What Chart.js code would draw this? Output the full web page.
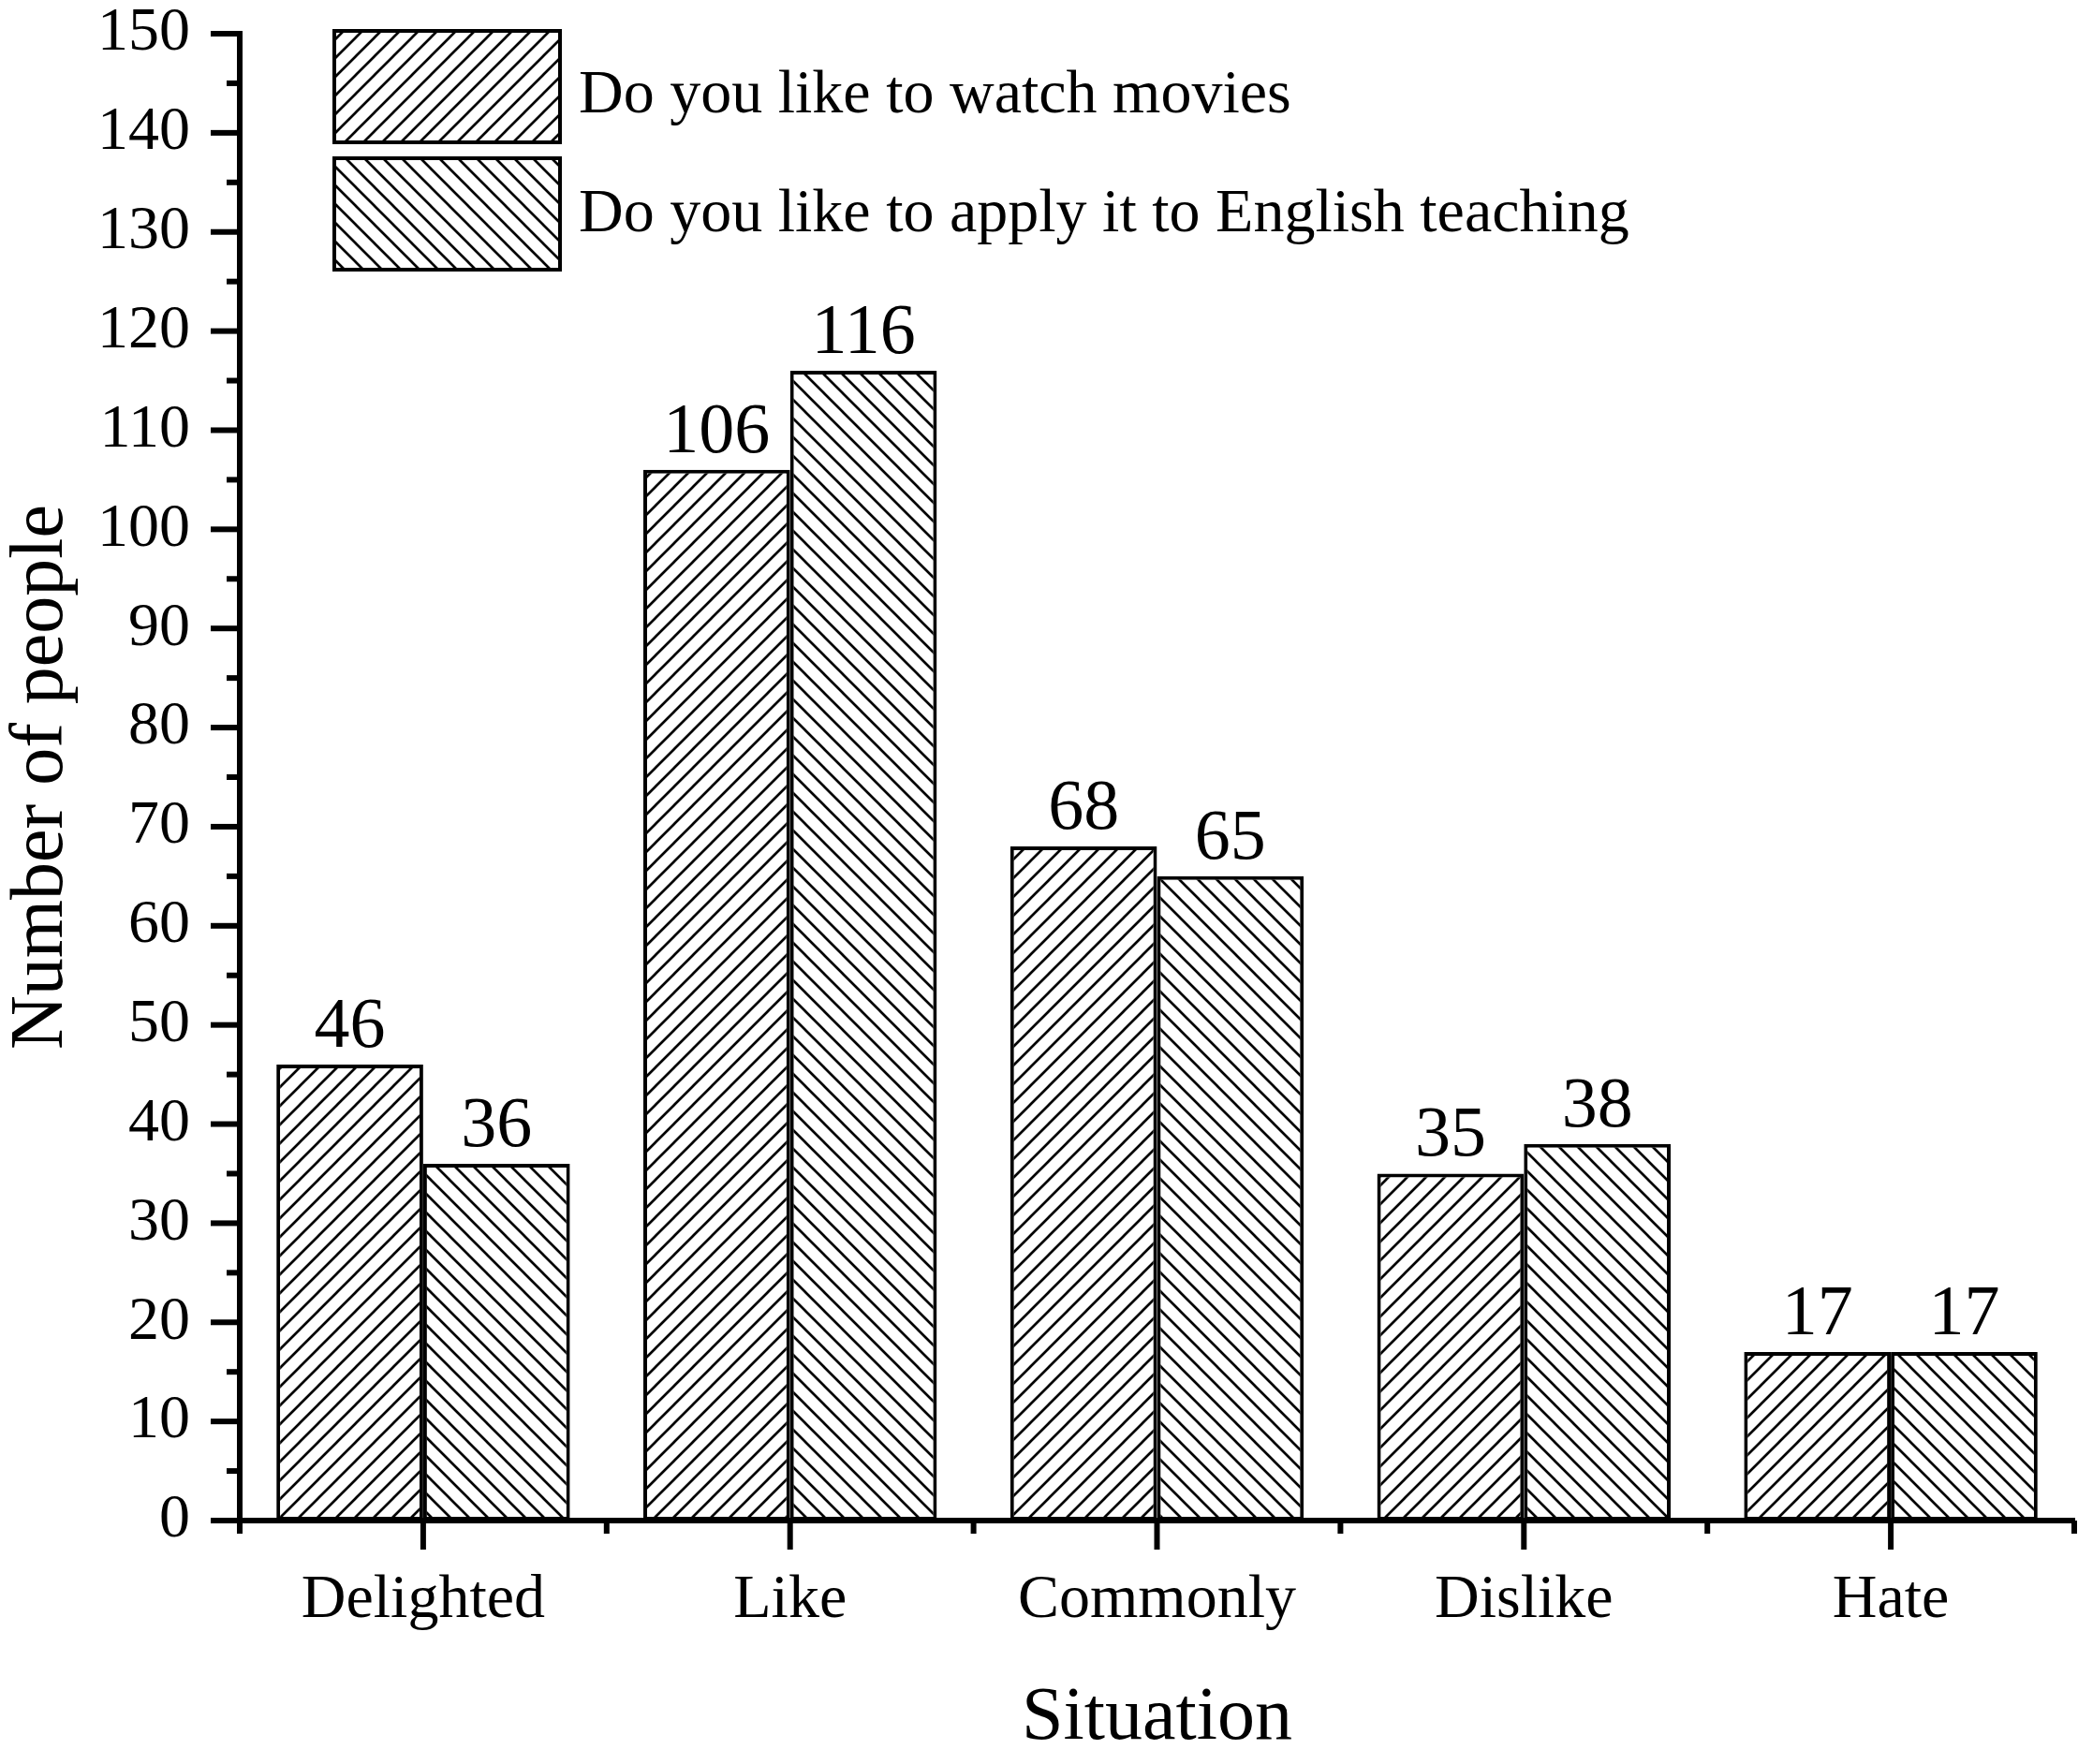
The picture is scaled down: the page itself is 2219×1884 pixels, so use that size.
<!DOCTYPE html>
<html>
<head>
<meta charset="utf-8">
<style>
  html, body { margin: 0; padding: 0; background: #fff; }
  #wrap { width: 2219px; height: 1884px; }
</style>
<script src="https://cdn.jsdelivr.net/npm/chart.js@4.4.1/dist/chart.umd.min.js"></script>
</head>
<body>
<div id="wrap"><canvas id="c" width="2219" height="1884"></canvas></div>
<script>
// ---- data ----
const categories = ['Delighted', 'Like', 'Commonly', 'Dislike', 'Hate'];
const seriesNames = ['Do you like to watch movies', 'Do you like to apply it to English teaching'];
const watchMovies = [46, 106, 68, 35, 17];
const applyTeaching = [36, 116, 65, 38, 17];
const yTickValues = [0, 10, 20, 30, 40, 50, 60, 70, 80, 90, 100, 110, 120, 130, 140, 150];
const xTitle = 'Situation';
const yTitle = 'Number of people';

const FONT = "'Liberation Serif', 'Times New Roman', serif";
const canvas = document.getElementById('c');
const ctx = canvas.getContext('2d');

function hatch(dir) {
  const s = 20;
  const c = document.createElement('canvas');
  c.width = s; c.height = s;
  const g = c.getContext('2d');
  g.fillStyle = '#ffffff';
  g.fillRect(0, 0, s, s);
  g.strokeStyle = '#000000';
  g.lineWidth = 2.7;
  g.beginPath();
  if (dir === 'up') {
    g.moveTo(-s, s); g.lineTo(s, -s);
    g.moveTo(-s/2, 1.5*s); g.lineTo(1.5*s, -s/2);
    g.moveTo(0, 2*s); g.lineTo(2*s, 0);
  } else {
    g.moveTo(-s/2, -s/2); g.lineTo(1.5*s, 1.5*s);
    g.moveTo(-s, 0); g.lineTo(s, 2*s);
    g.moveTo(0, -s); g.lineTo(2*s, s);
  }
  g.stroke();
  return ctx.createPattern(c, 'repeat');
}
const patUp = hatch('up');
const patDown = hatch('down');

// custom ticks (major + minor) drawn through the scales
const tickPlugin = {
  id: 'tickPlugin',
  afterDraw(chart) {
    const c = chart.ctx;
    const x = chart.scales.x, y = chart.scales.y;
    const ax = chart.chartArea.left, ay = chart.chartArea.bottom;
    c.save();
    c.strokeStyle = '#000';
    c.lineWidth = 6;
    c.lineCap = 'butt';
    for (let v = 0; v <= 150; v += 5) {
      const py = y.getPixelForValue(v);
      const len = (v % 10 === 0) ? 31 : 14;
      c.beginPath(); c.moveTo(ax - len, py); c.lineTo(ax, py); c.stroke();
    }
    for (let i = 0; i < categories.length; i++) {
      const px = x.getPixelForValue(i);
      c.beginPath(); c.moveTo(px, ay); c.lineTo(px, ay + 31); c.stroke();
    }
    for (let i = 0; i <= categories.length; i++) {
      const px = x.getPixelForValue(i - 0.5);
      c.beginPath(); c.moveTo(px, ay); c.lineTo(px, ay + 14); c.stroke();
    }
    c.restore();
  }
};

const valueLabels = {
  id: 'valueLabels',
  afterDatasetsDraw(chart) {
    const c = chart.ctx;
    c.save();
    c.fillStyle = '#000';
    c.font = '76px ' + FONT;
    c.textAlign = 'center';
    c.textBaseline = 'alphabetic';
    chart.data.datasets.forEach((ds, di) => {
      const meta = chart.getDatasetMeta(di);
      meta.data.forEach((bar, i) => {
        c.fillText(String(ds.data[i]), bar.x, bar.y - 19);
      });
    });
    c.restore();
  }
};

const customLegend = {
  id: 'customLegend',
  afterDraw(chart) {
    const c = chart.ctx;
    c.save();
    const boxes = [{y: 31, h: 123}, {y: 167, h: 123}];
    const baselines = [120, 247];
    chart.data.datasets.forEach((ds, i) => {
      const b = boxes[i];
      c.fillStyle = ds.backgroundColor;
      c.fillRect(357, b.y + 2, 241, b.h - 4);
      c.strokeStyle = '#000';
      c.lineWidth = 4;
      c.strokeRect(357, b.y + 2, 241, b.h - 4);
      c.fillStyle = '#000';
      c.font = '66px ' + FONT;
      c.textAlign = 'left';
      c.textBaseline = 'alphabetic';
      c.fillText(ds.label, 618, baselines[i]);
    });
    c.restore();
  }
};

new Chart(canvas, {
  type: 'bar',
  data: {
    labels: categories,
    datasets: [
      { label: seriesNames[0], data: watchMovies, backgroundColor: patUp, borderColor: '#000', borderWidth: 4, borderSkipped: false },
      { label: seriesNames[1], data: applyTeaching, backgroundColor: patDown, borderColor: '#000', borderWidth: 4, borderSkipped: false }
    ]
  },
  options: {
    responsive: false,
    devicePixelRatio: 1,
    animation: false,
    layout: { padding: { top: 36, right: 4, left: 0, bottom: 0 } },
    plugins: { legend: { display: false }, tooltip: { enabled: false } },
    datasets: { bar: { categoryPercentage: 0.8, barPercentage: 1.0 } },
    scales: {
      x: {
        grid: { display: false, drawTicks: false },
        border: { display: true, color: '#000', width: 6 },
        ticks: { color: '#000', font: { family: FONT, size: 66 }, padding: 46, maxRotation: 0, autoSkip: false },
        title: { display: true, text: xTitle, color: '#000', font: { family: FONT, size: 80, lineHeight: 1 }, padding: { top: 0, bottom: 8 } },
        afterFit(s) { s.height = 260; s.paddingLeft = 0; s.paddingRight = 0; }
      },
      y: {
        min: 0, max: 150,
        grid: { display: false, drawTicks: false },
        border: { display: true, color: '#000', width: 6 },
        afterBuildTicks(s) { s.ticks = yTickValues.map(v => ({ value: v })); },
        ticks: { color: '#000', font: { family: FONT, size: 66, lineHeight: 1 }, padding: 53 },
        title: { display: true, text: yTitle, color: '#000', font: { family: FONT, size: 80, lineHeight: 1 }, padding: { top: 5, bottom: 0 } },
        afterFit(s) { s.width = 256; s.paddingTop = 0; s.paddingBottom = 0; }
      }
    }
  },
  plugins: [tickPlugin, valueLabels, customLegend]
});
</script>
</body>
</html>
